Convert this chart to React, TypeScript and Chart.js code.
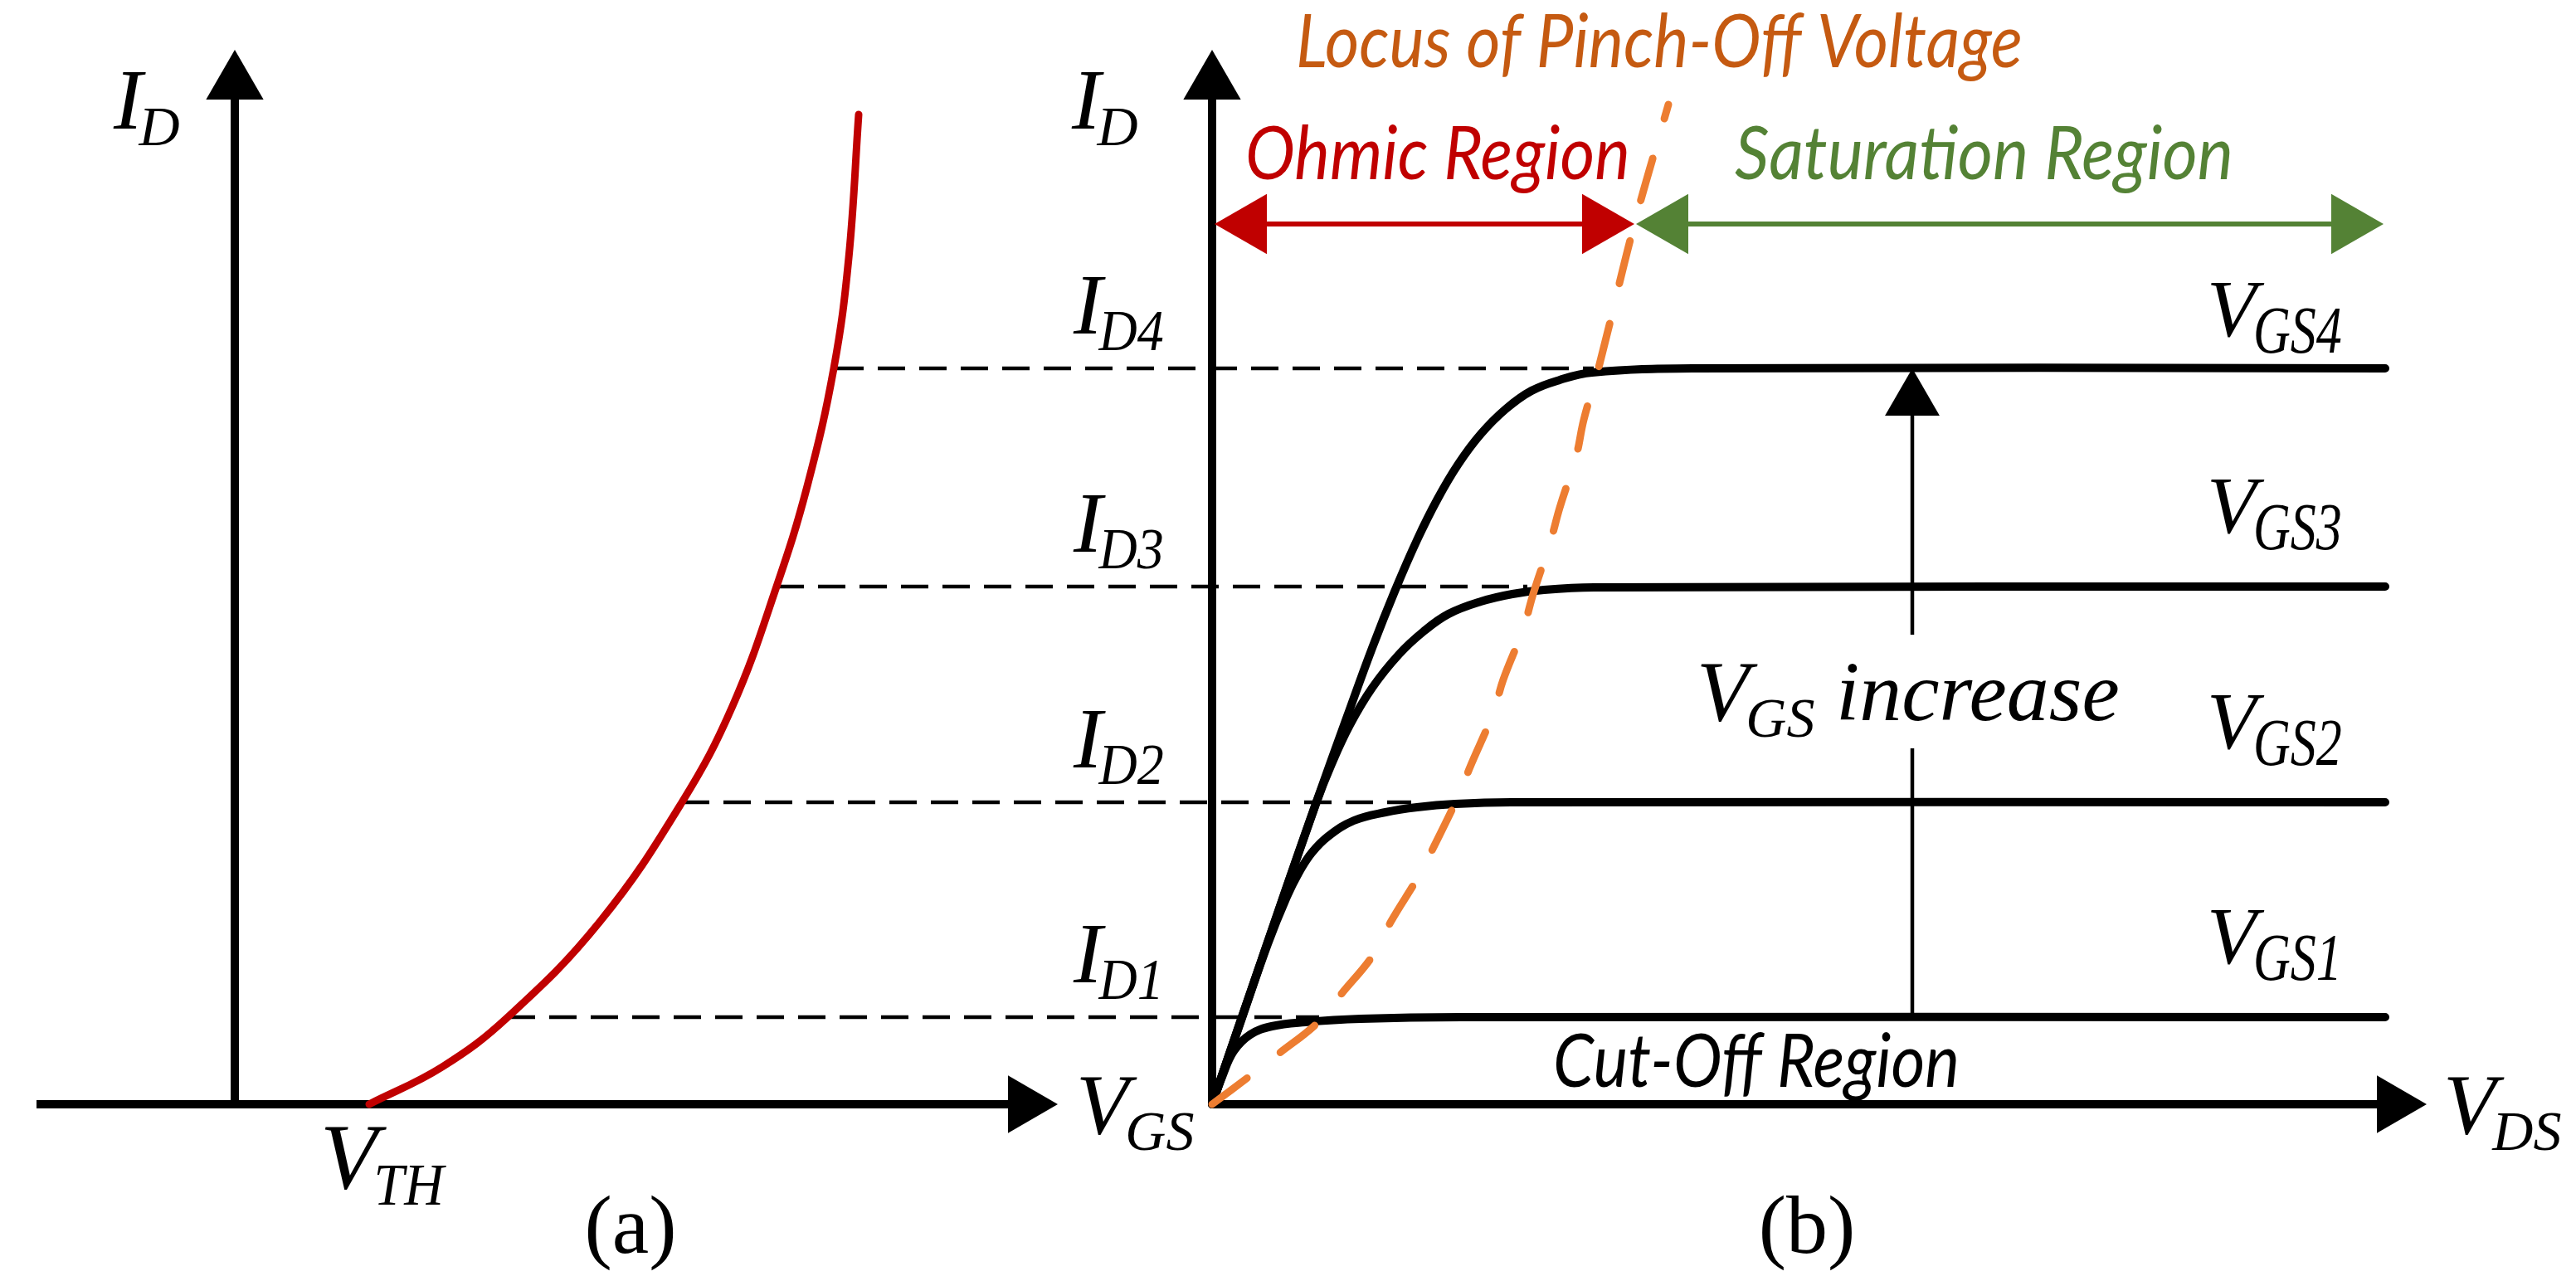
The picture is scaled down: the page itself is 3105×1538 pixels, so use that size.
import React, { useEffect, useRef } from "react";
import { Chart, registerables } from "chart.js";

Chart.register(...registerables);

// ---------------- frame of the diagram (1 unit = one grid step) ----------------
const X_MIN = 0;
const X_MAX = 31.05;
const Y_MIN = -2.07;
const Y_MAX = 13.31;
const A_ORIGIN = 2.83; // where panel (a)'s I_D axis stands
const B_ORIGIN = 14.61; // where panel (b)'s I_D axis stands

// ---------------- data ----------------
// drain-current levels ID1..ID4
const ID_LEVELS = [1.05, 3.64, 6.24, 8.87];
const ID_NAMES = ["D1", "D2", "D3", "D4"];
const VGS_NAMES = ["GS1", "GS2", "GS3", "GS4"];

// panel (a): transfer characteristic, V_GS vs I_D
const TRANSFER_VGS = [1.62, 2.5, 3.29, 4.4, 5.39, 6.0, 6.53, 6.9, 7.22, 7.4, 7.52];
const TRANSFER_ID = [0, 0.45, 1.05, 2.2, 3.64, 4.8, 6.24, 7.45, 8.87, 10.2, 11.93];

// panel (b): output characteristics, V_DS vs I_D for each V_GS
const VDS_1 = [0, 0.12, 0.26, 0.46, 0.72, 1.12, 1.79, 3.0, 14.14];
const ID_1 = [0, 0.33, 0.64, 0.84, 0.94, 0.99, 1.03, 1.05, 1.05];
const VDS_2 = [0, 0.35, 0.67, 0.9, 1.05, 1.2, 1.4, 1.71, 2.09, 2.47, 2.93, 3.6, 14.14];
const ID_2 = [0, 1.01, 1.93, 2.5, 2.8, 3.03, 3.23, 3.42, 3.52, 3.58, 3.62, 3.64, 3.64];
const VDS_3 = [0, 0.6, 1.25, 1.44, 1.66, 1.93, 2.25, 2.55, 2.85, 3.24, 3.62, 4.0, 4.6, 14.14];
const ID_3 = [0, 1.75, 3.62, 4.1, 4.57, 5.02, 5.42, 5.7, 5.91, 6.06, 6.15, 6.2, 6.23, 6.24];
const VDS_4 = [0, 0.6, 1.25, 1.63, 1.93, 2.2, 2.47, 2.72, 2.97, 3.24, 3.54, 3.85, 4.19, 4.58, 5.79, 14.14];
const ID_4 = [0, 1.75, 3.62, 4.68, 5.5, 6.18, 6.8, 7.3, 7.72, 8.08, 8.38, 8.6, 8.73, 8.82, 8.87, 8.87];

// locus of pinch-off voltage
const LOCUS_VDS = [0, 0.48, 0.79, 1.28, 1.55, 1.95, 2.16, 2.49, 2.68, 2.97, 3.12, 3.39, 3.51, 3.75, 3.87, 4.08, 4.19, 4.39, 4.48, 4.67, 5.09, 5.5];
const LOCUS_ID = [0, 0.36, 0.6, 0.99, 1.32, 1.81, 2.21, 2.75, 3.12, 3.72, 4.09, 4.72, 5.12, 5.73, 6.15, 6.79, 7.19, 7.82, 8.25, 8.92, 10.61, 12.05];

// dashed projections: from V_GS on the transfer curve to V_DS knee of each output curve
const PROJ_VGS = [3.29, 5.39, 6.53, 7.25];
const PROJ_VDS = [1.29, 2.4, 3.8, 4.6];

// region arrows (V_DS spans) and their I_D level
const REGION_ID = 10.61;
const OHMIC_SPAN = [0.03, 5.09];
const SAT_SPAN = [5.11, 14.12];

// "V_GS increase" arrow: V_DS position and I_D gap left for the text
const INCREASE_VDS = 8.44;
const INCREASE_GAP = [4.29, 5.66];

// axes: panel (a) horizontal axis from/to, vertical tip, panel (b) horizontal tip
const A_AXIS_X = [-2.39, 9.92];
const AXIS_TOP = 12.71;
const B_AXIS_TIP = 14.64;

// ---------------- styles ----------------
const BLACK = "#000000";
const RED = "#C00000";
const GREEN = "#548235";
const ORANGE = "#ED7D31";
const ORANGE_TEXT = "#C55A11";
const SERIF = '"Liberation Serif", "Times New Roman", serif';
const SANS = 'Lato, "Open Sans", sans-serif';

const pts = (xs: number[], ys: number[], dx = 0) => xs.map((x, i) => ({ x: x + dx, y: ys[i] }));
const seg = (x0: number, y0: number, x1: number, y1: number) => [
  { x: x0, y: y0 },
  { x: x1, y: y1 },
];

function lineDs(data: any[], color: string, width: number, order: number, extra: any = {}) {
  return {
    data,
    showLine: true,
    borderColor: color,
    backgroundColor: color,
    borderWidth: width,
    pointRadius: 0,
    pointHoverRadius: 0,
    fill: false,
    tension: 0,
    order,
    clip: false,
    ...extra,
  };
}

function headDs(data: any[], color: string, radius: number[], rotation: number[], order: number) {
  return {
    data,
    showLine: false,
    pointStyle: "triangle",
    pointRadius: radius,
    pointHoverRadius: radius,
    pointRotation: rotation,
    pointBackgroundColor: color,
    pointBorderColor: color,
    pointBorderWidth: 0,
    order,
    clip: false,
  };
}

// ---------------- text annotations ----------------
type SubLabel = {
  x: number;
  y: number;
  main: string;
  sub: string;
  tail?: string;
  m?: number; // main font px
  s?: number; // sub font px
  sy?: number; // sub vertical stretch
};
const SUB_LABELS: SubLabel[] = [
  { x: 1.37, y: 11.76, main: "I", sub: "D" },
  { x: 12.92, y: 11.76, main: "I", sub: "D" },
  ...ID_LEVELS.map((lv, i) => ({ x: 12.94, y: lv + 0.42, main: "I", sub: ID_NAMES[i], s: 64, sy: 1.1 })),
  ...ID_LEVELS.map((lv, i) => ({
    x: 26.6,
    y: lv + (i === 3 ? 0.39 : 0.65),
    main: "V",
    sub: VGS_NAMES[i],
    m: 98,
    s: 62,
    sy: 1.28,
  })),
  { x: 12.97, y: -0.35, main: "V", sub: "GS" },
  { x: 29.45, y: -0.35, main: "V", sub: "DS" },
  { x: 3.86, y: -1.01, main: "V", sub: "TH", m: 113, s: 66, sy: 1.08 },
  { x: 20.45, y: 4.63, main: "V", sub: "GS", tail: " increase" },
];
const PANEL_LABELS = [
  { x: 7.6, y: -1.79, text: "(a)" },
  { x: 21.78, y: -1.79, text: "(b)" },
];
const REGION_LABELS = [
  { x: 15.62, y: 12.5, w: 8.76, text: "Locus of Pinch-Off Voltage", color: ORANGE_TEXT },
  { x: 15.01, y: 11.15, w: 4.64, text: "Ohmic Region", color: RED },
  { x: 20.91, y: 11.15, w: 6.01, text: "Saturation Region", color: GREEN },
  { x: 18.72, y: 0.21, w: 4.9, text: "Cut-Off Region", color: BLACK },
];

function stretchText(ctx: CanvasRenderingContext2D, text: string, x: number, y: number, sx: number, sy: number) {
  ctx.save();
  ctx.translate(x, y);
  ctx.scale(sx, sy);
  ctx.fillText(text, 0, 0);
  ctx.restore();
}

const textPlugin = {
  id: "diagramText",
  afterDatasetsDraw(chart: any) {
    const ctx: CanvasRenderingContext2D = chart.ctx;
    const sx = (v: number) => chart.scales.x.getPixelForValue(v);
    const sy = (v: number) => chart.scales.y.getPixelForValue(v);
    ctx.save();
    ctx.textBaseline = "alphabetic";
    ctx.fillStyle = BLACK;
    ctx.textAlign = "left";
    for (const l of SUB_LABELS) {
      const px = sx(l.x);
      const py = sy(l.y);
      const m = l.m ?? 104;
      const s = l.s ?? 68;
      ctx.font = `italic ${m}px ${SERIF}`;
      ctx.fillText(l.main, px, py);
      const w1 = ctx.measureText(l.main).width;
      ctx.font = `italic ${s}px ${SERIF}`;
      const subX = px + w1 - m * 0.04;
      stretchText(ctx, l.sub, subX, py + 20, 1, l.sy ?? 1);
      const w2 = ctx.measureText(l.sub).width;
      if (l.tail) {
        ctx.font = `italic 102px ${SERIF}`;
        ctx.fillText(l.tail, subX + w2, py);
      }
    }
    ctx.textAlign = "center";
    ctx.font = `100px ${SERIF}`;
    for (const l of PANEL_LABELS) ctx.fillText(l.text, sx(l.x), sy(l.y));
    ctx.textAlign = "left";
    for (const l of REGION_LABELS) {
      ctx.font = `italic 84px ${SANS}`;
      const mw = ctx.measureText(l.text).width;
      const target = sx(l.x + l.w) - sx(l.x);
      ctx.fillStyle = l.color;
      stretchText(ctx, l.text, sx(l.x), sy(l.y), target / mw, 1.06);
    }
    ctx.restore();
  },
};

export default function App() {
  const ref = useRef<HTMLCanvasElement | null>(null);

  useEffect(() => {
    if (!ref.current) return;
    const datasets: any[] = [];
    const smooth = { tension: 0.4, borderCapStyle: "round", borderJoinStyle: "round" };

    // axes
    datasets.push(lineDs(seg(A_ORIGIN + A_AXIS_X[0], 0, A_ORIGIN + A_AXIS_X[1] - 0.3, 0), BLACK, 10, 5));
    datasets.push(lineDs(seg(A_ORIGIN, 0, A_ORIGIN, AXIS_TOP - 0.3), BLACK, 10, 5));
    datasets.push(lineDs(seg(B_ORIGIN, 0, B_ORIGIN + B_AXIS_TIP - 0.3, 0), BLACK, 10, 5));
    datasets.push(lineDs(seg(B_ORIGIN, 0, B_ORIGIN, AXIS_TOP - 0.3), BLACK, 10, 5));

    // dashed projections
    ID_LEVELS.forEach((lv, i) => {
      datasets.push(
        lineDs(seg(A_ORIGIN + PROJ_VGS[i], lv, B_ORIGIN + PROJ_VDS[i], lv), BLACK, 4.5, 6, { borderDash: [33, 17] })
      );
    });

    // transfer curve
    datasets.push(lineDs(pts(TRANSFER_VGS, TRANSFER_ID, A_ORIGIN), RED, 9, 3, smooth));

    // output curves
    [
      [VDS_1, ID_1],
      [VDS_2, ID_2],
      [VDS_3, ID_3],
      [VDS_4, ID_4],
    ].forEach(([xs, ys]) => {
      datasets.push(lineDs(pts(xs, ys, B_ORIGIN), BLACK, 10, 3, smooth));
    });

    // locus of pinch-off
    datasets.push(
      lineDs(pts(LOCUS_VDS, LOCUS_ID, B_ORIGIN), ORANGE, 9, 1, {
        tension: 0.4,
        borderDash: [53, 50],
        borderCapStyle: "round",
      })
    );

    // region arrows
    const hr = 0.42;
    datasets.push(lineDs(seg(B_ORIGIN + OHMIC_SPAN[0] + hr, REGION_ID, B_ORIGIN + OHMIC_SPAN[1] - hr, REGION_ID), RED, 6, 2));
    datasets.push(lineDs(seg(B_ORIGIN + SAT_SPAN[0] + hr, REGION_ID, B_ORIGIN + SAT_SPAN[1] - hr, REGION_ID), GREEN, 6, 2));
    datasets.push(
      headDs(
        seg(B_ORIGIN + OHMIC_SPAN[0] + hr, REGION_ID, B_ORIGIN + OHMIC_SPAN[1] - hr, REGION_ID),
        RED,
        [42, 42],
        [-90, 90],
        0
      )
    );
    datasets.push(
      headDs(
        seg(B_ORIGIN + SAT_SPAN[0] + hr, REGION_ID, B_ORIGIN + SAT_SPAN[1] - hr, REGION_ID),
        GREEN,
        [42, 42],
        [-90, 90],
        0
      )
    );

    // V_GS increase arrow
    datasets.push(lineDs(seg(B_ORIGIN + INCREASE_VDS, ID_LEVELS[0], B_ORIGIN + INCREASE_VDS, INCREASE_GAP[0]), BLACK, 4.5, 2));
    datasets.push(lineDs(seg(B_ORIGIN + INCREASE_VDS, INCREASE_GAP[1], B_ORIGIN + INCREASE_VDS, ID_LEVELS[3] - 0.3), BLACK, 4.5, 2));

    // black arrow heads
    datasets.push(
      headDs(
        [
          { x: A_ORIGIN, y: AXIS_TOP - 0.4 },
          { x: A_ORIGIN + A_AXIS_X[1] - 0.4, y: 0 },
          { x: B_ORIGIN, y: AXIS_TOP - 0.4 },
          { x: B_ORIGIN + B_AXIS_TIP - 0.4, y: 0 },
          { x: B_ORIGIN + INCREASE_VDS, y: ID_LEVELS[3] - 0.38 },
        ],
        BLACK,
        [40, 40, 40, 40, 38],
        [0, 90, 0, 90, 0],
        0
      )
    );

    const chart = new Chart(ref.current, {
      type: "scatter",
      data: { datasets },
      options: {
        animation: false,
        responsive: false,
        maintainAspectRatio: false,
        devicePixelRatio: 1,
        events: [],
        layout: { padding: 0, autoPadding: false },
        scales: {
          x: { type: "linear", min: X_MIN, max: X_MAX, display: false },
          y: { type: "linear", min: Y_MIN, max: Y_MAX, display: false },
        },
        plugins: { legend: { display: false }, tooltip: { enabled: false } },
      },
      plugins: [textPlugin],
    } as any);
    return () => chart.destroy();
  }, []);

  return (
    <div style={{ position: "fixed", left: 0, top: 0, width: 3105, height: 1538, background: "#ffffff" }}>
      <canvas ref={ref} width={3105} height={1538} style={{ display: "block", width: 3105, height: 1538 }} />
    </div>
  );
}
